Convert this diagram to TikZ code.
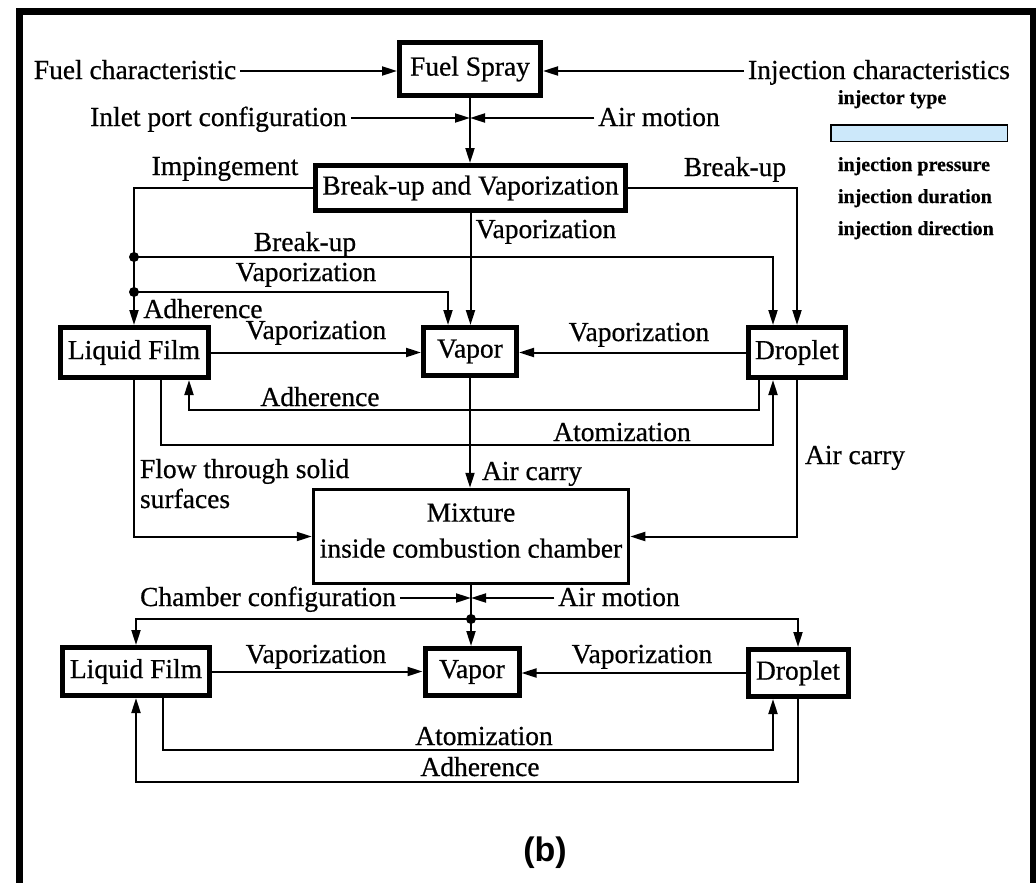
\documentclass[tikz,border=0pt]{standalone}
\usepackage{fontspec}
\setmainfont{Liberation Serif}[FakeBold=0.6]
\newfontfamily\smallbold{Liberation Serif Bold}[FakeBold=0.4]
\newfontfamily\labsans{Liberation Sans}
\usetikzlibrary{arrows.meta}
\definecolor{barblue}{RGB}{204,232,250}
\begin{document}
\begin{tikzpicture}[x=1pt,y=-1pt,
  every node/.style={inner sep=0pt, outer sep=0pt},
  txt/.style={font=\fontsize{27.5}{32}\selectfont, text height=19pt, text depth=3pt, inner xsep=4pt},
  box/.style={draw, line width=5pt, outer sep=2.5pt, font=\fontsize{27.5}{32}\selectfont, align=center},
  conn/.style={line width=2pt},
  arr/.style={conn, -{Triangle[length=15pt,width=9pt]}},
  small/.style={font=\smallbold\fontsize{20}{22}\selectfont, text height=13pt, text depth=3pt, anchor=west},
  dotc/.style={fill=black}
]
\useasboundingbox (0,0) rectangle (1036,883);
\fill[white] (0,0) rectangle (1036,883);
\begin{scope}
\clip (0,0) rectangle (1036,883);
\draw[line width=7pt] (19,900) -- (19,11.5) -- (1033,11.5) -- (1033,900);
\end{scope}

% boxes
\node[box, minimum width=141pt, minimum height=53pt] (fs) at (470,69) {Fuel Spray};
\node[box, minimum width=310pt, minimum height=45pt] (bu) at (470.5,188) {Break-up and Vaporization};
\node[box, minimum width=148pt, minimum height=50pt] (lf) at (134,352.5) {Liquid Film};
\node[box, minimum width=93pt, minimum height=48pt] (vap) at (470,351.5) {Vapor};
\node[box, minimum width=97pt, minimum height=50pt] (dr) at (797,352.5) {Droplet};
\node[box, line width=3.5pt, outer sep=1.75pt, minimum width=315pt, minimum height=94pt, font=\fontsize{27.5}{36}\selectfont] (mix) at (471,536.5) {Mixture\\inside combustion chamber\rule[-12pt]{0pt}{12pt}};
\node[box, minimum width=147pt, minimum height=48pt] (lf2) at (136,671.5) {Liquid Film};
\node[box, minimum width=94pt, minimum height=47pt] (vap2) at (472,672) {Vapor};
\node[box, minimum width=100pt, minimum height=47pt] (dr2) at (798,673) {Droplet};

% top labels
\node[txt] (fc) at (135,71) {Fuel characteristic};
\node[txt] (ic) at (879,71) {Injection characteristics};
\node[txt] (ipc) at (218.5,118) {Inlet port configuration};
\node[txt] (am) at (659,118) {Air motion};

% injector list
\node[small] (it) at (838,99) {injector type};
\node[draw, line width=1.5pt, fill=barblue, minimum width=176.5pt, minimum height=16.5pt] (bar) at (919,133) {};
\node[small] (ip) at (838,166) {injection pressure};
\node[small] (idu) at (838,198) {injection duration};
\node[small] (idi) at (838,230) {injection direction};

% middle labels
\node[txt] (imp) at (225,167) {Impingement};
\node[txt] (bul) at (305,243) {Break-up};
\node[txt] (vl1) at (306,273) {Vaporization};
\node[txt] (adl) at (203,310) {Adherence};
\node[txt] (vbu) at (546,230) {Vaporization};
\node[txt] (bur) at (735,168) {Break-up};
\node[txt] (vlf) at (316,331) {Vaporization};
\node[txt] (vdr) at (639,333) {Vaporization};
\node[txt] (adm) at (320,398) {Adherence};
\node[txt] (atm) at (622,433) {Atomization};
\node[txt, anchor=west, inner xsep=0pt] (fl1) at (140,470) {Flow through solid};
\node[txt, anchor=west, inner xsep=0pt] (fl2) at (140,500) {surfaces};
\node[txt, anchor=west, inner xsep=0pt] (ac1) at (482,472) {Air carry};
\node[txt, anchor=west, inner xsep=0pt] (ac2) at (805,456) {Air carry};

% bottom labels
\node[txt] (ccfg) at (268,598) {Chamber configuration};
\node[txt] (am2) at (619,598) {Air motion};
\node[txt] (vlf2) at (316,655) {Vaporization};
\node[txt] (vdr2) at (642,655) {Vaporization};
\node[txt] (atm2) at (484,737) {Atomization};
\node[txt] (adh2) at (480,768) {Adherence};
\node[font=\labsans\bfseries\fontsize{34}{40}\selectfont] (blab) at (545,853) {(b)};

% coordinates
\coordinate (j1) at (470,118);
\coordinate (d1) at (134,257);
\coordinate (d2) at (134,292);
\coordinate (j2) at (471,598);
\coordinate (d3) at (471,619);

% top connectors
\draw[arr] (fc.east) -- (fc.east -| fs.west);
\draw[arr] (ic.west) -- (ic.west -| fs.east);
\draw[arr] (fs.south) -- (fs.south |- bu.north);
\draw[arr] (ipc.east) -- (j1);
\draw[arr] (am.west) -- (j1);

% middle connectors
\draw[arr] (bu.west) -| (lf.north);
\draw[arr] (d1) -| ([xshift=-24pt]dr.north);
\draw[arr] (d2) -| ([xshift=-22pt]vap.north);
\draw[arr] (bu.south) -- (bu.south |- vap.north);
\draw[arr] (bu.east) -| (dr.north);
\fill[dotc] (d1) circle (5pt);
\fill[dotc] (d2) circle (5pt);
\draw[arr] (lf.east) -- (lf.east -| vap.west);
\draw[arr] (dr.west) -- (dr.west -| vap.east);
\draw[arr] ([xshift=-38pt]dr.south) -- ++(0,30) -| ([xshift=55pt]lf.south);
\draw[arr] ([xshift=27pt]lf.south) -- ++(0,65) -| ([xshift=-24pt]dr.south);
\draw[arr] (vap.south) -- (vap.south |- mix.north);
\draw[arr] (lf.south) |- (mix.west);
\draw[arr] (dr.south) |- (mix.east);

% bottom connectors
\draw[arr] (ccfg.east) -- (j2);
\draw[arr] (am2.west) -- (j2);
\draw[conn] (mix.south) -- (d3);
\draw[arr] (d3) -- (d3 |- vap2.north);
\draw[arr] (d3) -| (lf2.north);
\draw[arr] (d3) -| (dr2.north);
\fill[dotc] (d3) circle (5pt);
\draw[arr] (lf2.east) -- (lf2.east -| vap2.west);
\draw[arr] (dr2.west) -- (dr2.west -| vap2.east);
\draw[arr] ([xshift=27pt]lf2.south) -- ++(0,52) -| ([xshift=-25pt]dr2.south);
\draw[arr] (dr2.south) -- ++(0,83) -| (lf2.south);
\end{tikzpicture}
\end{document}
